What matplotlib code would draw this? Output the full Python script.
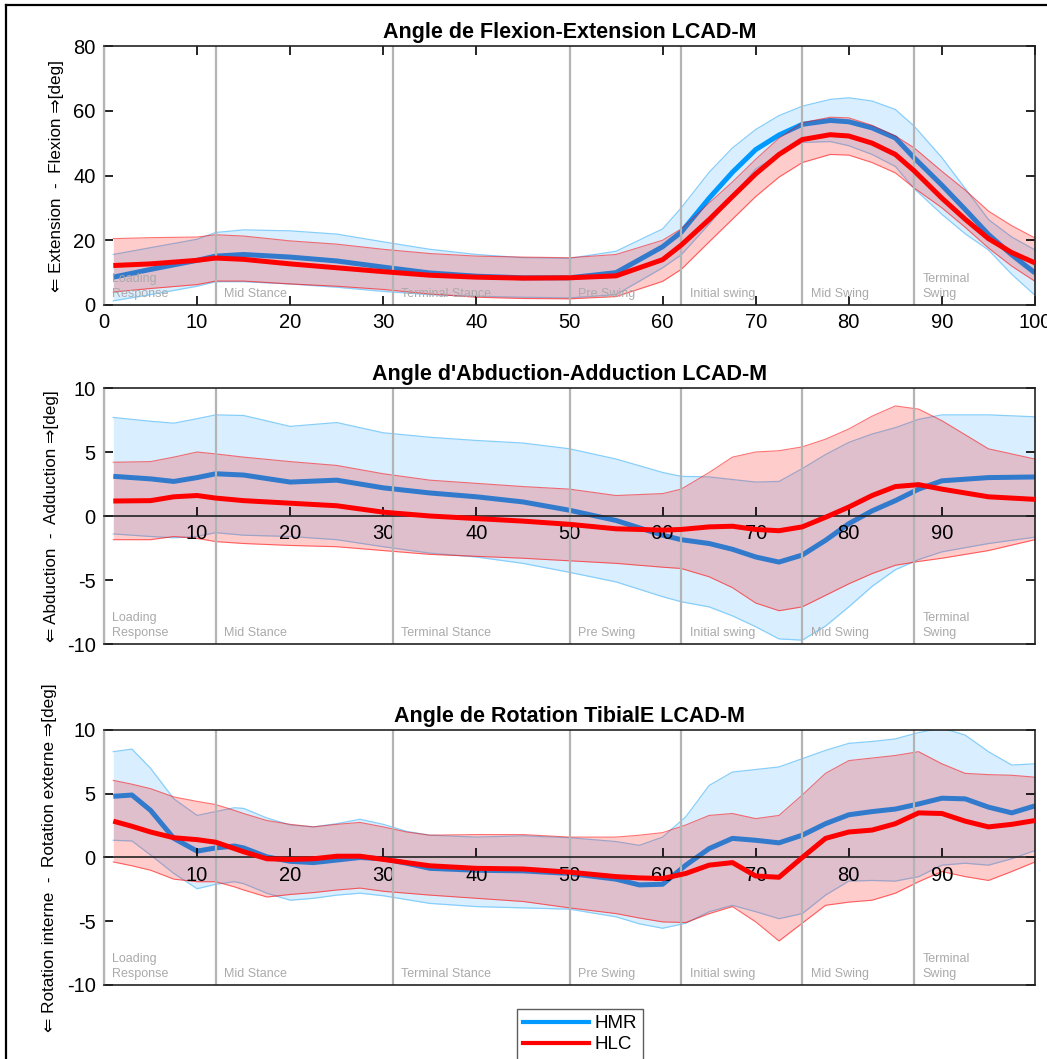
import matplotlib.pyplot as plt
from matplotlib.lines import Line2D

plt.rcParams['font.family'] = ['Liberation Sans', 'DejaVu Sans']
plt.rcParams['axes.unicode_minus'] = False

# gait phases (start % of cycle)
phase_x = [0, 12, 31, 50, 62, 75, 87]
phase_names = ['Loading\nResponse', 'Mid Stance', 'Terminal Stance', 'Pre Swing',
               'Initial swing', 'Mid Swing', 'Terminal\nSwing']

# ---- panel 1 : flexion / extension
x1 = [1, 5, 10, 12, 15, 20, 25, 30, 35, 40, 45, 50, 55, 60, 62, 65, 67.5, 70, 72.5, 75,
      78, 80, 82.5, 85, 87, 90, 92.5, 95, 97.5, 100]
hmr1 = [8.6, 11.0, 13.8, 15.1, 15.6, 14.8, 13.6, 11.7, 9.9, 8.9, 8.4, 8.4, 10.0, 18.0, 22.5,
        33.0, 41.0, 48.0, 52.5, 55.8, 57.0, 56.6, 54.7, 51.6, 45.5, 37.0, 29.5, 21.8, 15.5, 9.9]
hmr1_up = [15.6, 17.7, 20.3, 22.4, 23.2, 22.9, 21.9, 19.5, 17.2, 15.6, 14.6, 14.4, 16.6, 23.5,
           30.0, 41.0, 48.5, 54.2, 58.5, 61.4, 63.5, 64.0, 63.0, 60.4, 55.3, 45.5, 36.0, 26.4,
           21.0, 17.0]
hmr1_lo = [1.3, 3.2, 5.8, 7.2, 7.2, 6.5, 5.5, 4.2, 3.2, 2.7, 2.4, 2.2, 3.2, 11.5, 15.5, 25.0,
           33.5, 42.0, 46.5, 50.2, 50.5, 49.2, 46.5, 42.8, 36.0, 28.0, 22.0, 17.0, 9.5, 3.0]
hlc1 = [12.2, 12.7, 13.8, 14.5, 14.1, 12.7, 11.5, 10.3, 9.2, 8.6, 8.3, 8.4, 9.0, 14.0, 18.5,
        26.4, 33.5, 40.5, 46.5, 51.1, 52.6, 52.2, 50.0, 46.5, 41.5, 33.0, 26.5, 20.5, 16.2, 13.0]
hlc1_up = [20.5, 20.8, 21.0, 21.7, 21.3, 19.8, 18.8, 17.2, 15.9, 15.1, 14.8, 14.6, 15.6, 20.0,
           23.5, 31.5, 38.0, 45.0, 51.5, 56.3, 58.0, 57.8, 55.5, 52.2, 48.6, 41.3, 35.5, 29.0,
           24.5, 20.7]
hlc1_lo = [4.0, 5.1, 6.3, 7.4, 7.4, 6.5, 5.8, 4.8, 3.4, 2.4, 2.0, 1.9, 2.6, 7.3, 11.0, 19.5,
           26.5, 33.5, 39.5, 44.0, 46.5, 46.3, 44.0, 40.8, 36.2, 30.0, 24.0, 17.6, 12.0, 7.3]

# ---- panel 2 : abduction / adduction
x2 = [1, 5, 7.5, 10, 12, 15, 20, 25, 30, 35, 40, 45, 50, 55, 60, 62, 65, 67.5, 70, 72.5, 75,
      77.5, 80, 82.5, 85, 87.5, 90, 95, 100]
hmr2 = [3.1, 2.9, 2.7, 3.0, 3.3, 3.2, 2.65, 2.8, 2.2, 1.8, 1.5, 1.1, 0.45, -0.35, -1.5, -1.85,
        -2.15, -2.6, -3.2, -3.6, -3.05, -1.9, -0.6, 0.4, 1.2, 2.1, 2.75, 3.0, 3.05]
hmr2_up = [7.7, 7.4, 7.25, 7.6, 7.9, 7.85, 7.0, 7.3, 6.5, 6.15, 5.9, 5.7, 5.25, 4.45, 3.4, 3.1,
           3.05, 2.85, 2.65, 2.7, 3.7, 4.8, 5.75, 6.4, 6.9, 7.55, 7.9, 7.9, 7.75]
hmr2_lo = [-1.4, -1.6, -1.7, -1.6, -1.3, -1.5, -1.6, -1.85, -2.4, -2.9, -3.2, -3.7, -4.4, -5.15,
           -6.3, -6.7, -7.1, -7.8, -8.65, -9.6, -9.7, -8.6, -7.1, -5.5, -4.2, -3.4, -2.8, -2.15,
           -1.65]
hlc2 = [1.17, 1.2, 1.5, 1.6, 1.4, 1.2, 1.0, 0.8, 0.3, 0.0, -0.2, -0.4, -0.65, -1.0, -1.1, -1.05,
        -0.85, -0.8, -1.05, -1.15, -0.85, -0.1, 0.7, 1.6, 2.3, 2.45, 2.1, 1.5, 1.3]
hlc2_up = [4.2, 4.25, 4.6, 5.0, 4.85, 4.6, 4.25, 3.95, 3.3, 2.8, 2.55, 2.3, 2.1, 1.6, 1.75, 2.1,
           3.4, 4.6, 5.0, 5.1, 5.4, 6.0, 6.8, 7.8, 8.6, 8.35, 7.45, 5.25, 4.45]
hlc2_lo = [-1.85, -1.85, -1.6, -1.75, -2.0, -2.15, -2.3, -2.4, -2.7, -3.0, -3.15, -3.3, -3.5,
           -3.7, -4.0, -4.1, -4.75, -5.6, -6.8, -7.4, -7.1, -6.2, -5.3, -4.5, -3.85, -3.55, -3.3,
           -2.7, -1.85]

# ---- panel 3 : tibial rotation
x3 = [1, 3, 5, 7.5, 10, 12, 14, 15, 17.5, 20, 22.5, 25, 27.5, 30, 32.5, 35, 40, 45, 50, 55,
      57.5, 60, 62.5, 65, 67.5, 70, 72.5, 75, 77.5, 80, 82.5, 85, 87.5, 90, 92.5, 95, 97.5, 100]
hmr3 = [4.8, 4.9, 3.7, 1.5, 0.5, 0.75, 0.9, 0.75, 0.05, -0.3, -0.4, -0.2, 0.0, -0.1, -0.45,
        -0.85, -1.0, -1.05, -1.25, -1.7, -2.15, -2.1, -0.6, 0.7, 1.5, 1.35, 1.15, 1.75, 2.65,
        3.35, 3.6, 3.8, 4.2, 4.65, 4.6, 3.95, 3.5, 4.05]
hmr3_up = [8.3, 8.5, 7.0, 4.6, 3.3, 3.6, 3.9, 3.85, 3.1, 2.55, 2.4, 2.65, 3.0, 2.6, 2.05, 1.75,
           1.6, 1.7, 1.55, 1.25, 0.95, 1.6, 3.2, 5.65, 6.7, 6.9, 7.1, 7.75, 8.4, 8.95, 9.1, 9.3,
           9.8, 10.15, 9.6, 8.3, 7.25, 7.35]
hmr3_lo = [1.35, 1.3, 0.2, -1.25, -2.45, -2.1, -1.9, -2.05, -2.8, -3.35, -3.2, -2.95, -2.8,
           -3.0, -3.3, -3.6, -3.85, -3.95, -4.05, -4.65, -5.2, -5.55, -5.15, -4.25, -3.75, -4.25,
           -4.8, -4.4, -2.95, -1.85, -1.8, -1.85, -1.5, -0.6, -0.45, -0.6, -0.1, 0.55]
hlc3 = [2.85, 2.45, 2.0, 1.55, 1.4, 1.2, 0.7, 0.45, -0.1, -0.15, -0.1, 0.1, 0.1, -0.15, -0.4,
        -0.65, -0.85, -0.9, -1.15, -1.5, -1.6, -1.65, -1.25, -0.6, -0.4, -1.45, -1.55, 0.0, 1.5,
        2.0, 2.15, 2.65, 3.5, 3.45, 2.85, 2.4, 2.6, 2.9]
hlc3_up = [6.05, 5.75, 5.4, 4.75, 4.4, 4.15, 3.7, 3.45, 2.9, 2.6, 2.4, 2.6, 2.75, 2.4, 2.0,
           1.75, 1.8, 1.8, 1.6, 1.6, 1.75, 1.95, 2.55, 3.3, 3.45, 3.05, 3.3, 4.9, 6.6, 7.6, 7.8,
           8.0, 8.3, 7.35, 6.6, 6.5, 6.45, 6.3]
hlc3_lo = [-0.35, -0.65, -1.0, -1.7, -1.9, -1.9, -2.3, -2.55, -3.1, -2.9, -2.75, -2.55, -2.4,
           -2.65, -2.8, -2.95, -3.2, -3.45, -3.95, -4.4, -4.75, -5.05, -5.1, -4.4, -3.85, -5.05,
           -6.55, -5.15, -3.75, -3.5, -3.35, -2.8, -1.9, -1.1, -1.5, -1.8, -1.1, -0.35]

titles = ['Angle de Flexion-Extension LCAD-M',
          "Angle d'Abduction-Adduction LCAD-M",
          'Angle de Rotation TibialE LCAD-M']
ylabels = ['\u21d0 Extension  -  Flexion \u21d2[deg]',
           '\u21d0 Abduction  -  Adduction \u21d2[deg]',
           '\u21d0 Rotation interne  -  Rotation externe \u21d2[deg]']

blue = '#0099ff'
red = '#ff0000'
gray = '#b4b4b4'

fig = plt.figure(figsize=(10.47, 10.59), dpi=100)
W, H = 1047, 1059
boxes = [(46, 305), (388, 644), (730, 985)]
axes = []
for top, bot in boxes:
    axes.append(fig.add_axes([104 / W, 1 - bot / H, 931 / W, (bot - top) / H]))

data = [(x1, hmr1, hmr1_up, hmr1_lo, hlc1, hlc1_up, hlc1_lo),
        (x2, hmr2, hmr2_up, hmr2_lo, hlc2, hlc2_up, hlc2_lo),
        (x3, hmr3, hmr3_up, hmr3_lo, hlc3, hlc3_up, hlc3_lo)]
label_x = [-0.043, -0.048, -0.050]

for i, ax in enumerate(axes):
    x, hm, hm_u, hm_l, hl, hl_u, hl_l = data[i]
    ax.fill_between(x, hm_l, hm_u, color=blue, alpha=0.15, lw=0, zorder=1)
    ax.plot(x, hm_u, color='#87cefa', lw=0.9, zorder=1.1)
    ax.plot(x, hm_l, color='#87cefa', lw=0.9, zorder=1.1)
    ax.plot(x, hm, color=blue, lw=3.6, zorder=1.2, solid_capstyle='butt')
    ax.fill_between(x, hl_l, hl_u, color=red, alpha=0.2, lw=0, zorder=1.3)
    ax.plot(x, hl_u, color=red, lw=0.8, alpha=0.55, zorder=1.4)
    ax.plot(x, hl_l, color=red, lw=0.8, alpha=0.55, zorder=1.4)
    ax.plot(x, hl, color=red, lw=3.6, zorder=3, solid_capstyle='butt')

    for px in phase_x:
        ax.axvline(px, color=gray, lw=1.6, zorder=2)

    ax.set_xlim(0, 100)
    if i == 0:
        ax.set_ylim(0, 80)
        ax.set_yticks([0, 20, 40, 60, 80])
        ax.set_xticks(range(0, 101, 10))
        ax.tick_params(top=True, right=True, direction='in', length=6.5, width=1.2,
                       labelsize=14.5, pad=6)
        ytxt = 1.5
    else:
        ax.set_ylim(-10, 10)
        ax.set_yticks([-10, -5, 0, 5, 10])
        ax.set_xticks(range(10, 100, 10))
        ax.spines['bottom'].set_position(('data', 0))
        ax.plot([0, 1], [0, 0], transform=ax.transAxes, color='#222222', lw=1.2,
                clip_on=False, zorder=5)
        ax.tick_params(axis='x', direction='in', length=6.5, width=1.2, labelsize=14.5, pad=6)
        ax.tick_params(axis='y', right=True, direction='in', length=6.5, width=1.2,
                       labelsize=14.5, pad=6)
        ytxt = -9.6
    for s in ax.spines.values():
        s.set_linewidth(1.2)
        s.set_color('#222222')
    ax.spines['left'].set_color(gray)
    ax.spines['left'].set_linewidth(1.6)

    for px, name in zip(phase_x, phase_names):
        ax.text(px + 0.9, ytxt, name, color='#aaaaaa', fontsize=9, va='bottom',
                ha='left', linespacing=1.35, zorder=2.5)

    ax.set_title(titles[i], fontsize=15.5, fontweight='bold', pad=6)
    ax.set_ylabel(ylabels[i], fontsize=12.3, family=['Liberation Sans', 'DejaVu Sans'])
    ax.yaxis.set_label_coords(label_x[i], 0.5)

handles = [Line2D([], [], color=blue, lw=3), Line2D([], [], color=red, lw=3)]
leg = fig.legend(handles, ['HMR', 'HLC'], loc='lower center', bbox_to_anchor=(0.554, -0.006),
                 fontsize=13.5, frameon=True, fancybox=False, edgecolor='#333333',
                 handlelength=3.5, borderpad=0.35, labelspacing=0.2, handletextpad=0.3,
                 borderaxespad=0.3)
leg.get_frame().set_linewidth(1.0)

# figure frame
fig.add_artist(Line2D([6 / W, 6 / W], [0, 1 - 5 / H], color='k', lw=1.6))
fig.add_artist(Line2D([6 / W, 1], [1 - 5 / H, 1 - 5 / H], color='k', lw=1.6))

fig.savefig('out.png', dpi=100)
